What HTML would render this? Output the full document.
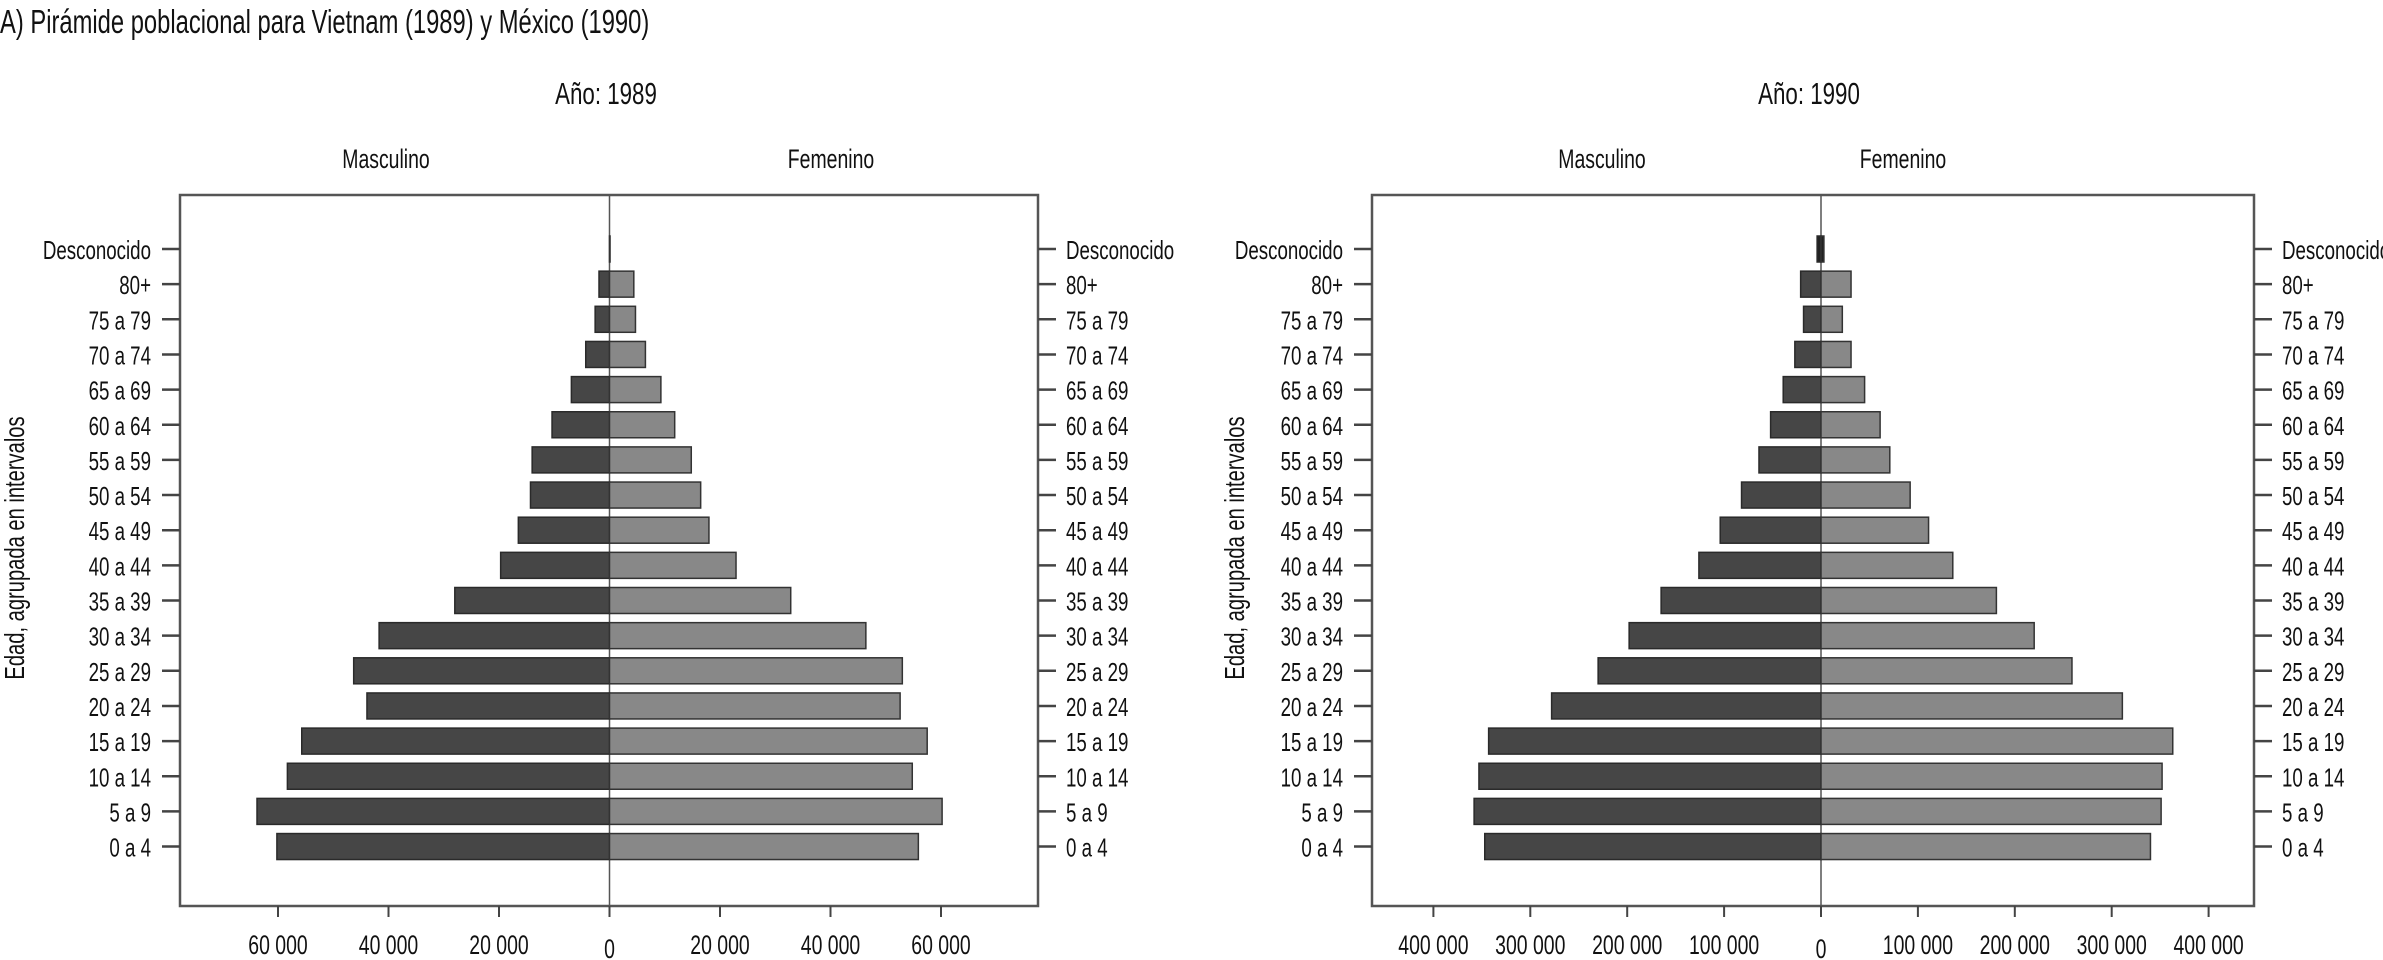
<!DOCTYPE html>
<html><head><meta charset="utf-8">
<style>
html,body{margin:0;padding:0;background:#fff;}
svg{display:block;}
text{font-family:"Liberation Sans Narrow","Liberation Sans",sans-serif;fill:#111;}
</style></head>
<body>
<svg id="chart" width="2383" height="960" viewBox="0 0 2383 960" xmlns="http://www.w3.org/2000/svg"></svg>
<script>
const categories = ["0 a 4","5 a 9","10 a 14","15 a 19","20 a 24","25 a 29","30 a 34","35 a 39","40 a 44","45 a 49","50 a 54","55 a 59","60 a 64","65 a 69","70 a 74","75 a 79","80+","Desconocido"];
const vietnamMale   = [60200,63800,58300,55700,43900,46300,41700,28000,19700,16500,14300,14000,10400,6900,4300,2600,1900,0];
const vietnamFemale = [55900,60200,54800,57500,52600,53000,46400,32800,22900,18000,16500,14800,11800,9300,6500,4700,4400,100];
const mexicoMale    = [347000,358000,353000,343000,278000,230000,198000,165000,126000,104000,82000,64000,52000,39000,27000,18000,21000,4000];
const mexicoFemale  = [340000,351000,352000,363000,311000,259000,220000,181000,136000,111000,92000,71000,61000,45000,31000,22000,31000,3000];
const vietnamTicks = [-60000,-40000,-20000,0,20000,40000,60000];
const mexicoTicks  = [-400000,-300000,-200000,-100000,0,100000,200000,300000,400000];
const NS="http://www.w3.org/2000/svg";
const svg=document.getElementById('chart');
function el(tag,attrs,parent){const e=document.createElementNS(NS,tag);for(const k in attrs)e.setAttribute(k,attrs[k]);(parent||svg).appendChild(e);return e;}
function txt(x,y,s,anchor,size,parent,rot){
  const t=el('text',{transform:`translate(${x},${y})`+(rot?` rotate(${rot})`:'')+' scale(0.72,1)','text-anchor':anchor,'font-size':size},parent);
  t.textContent=s;return t;
}
function fmt(v){v=Math.abs(v);if(v===0)return "0";const s=String(v);return s.slice(0,s.length-3)+" "+s.slice(-3);}

const t0=txt(0,33,"A) Pirámide poblacional para Vietnam (1989) y México (1990)","start",33);



function pyramid(cfg){
  const g=el('g',{});
  
  
  const xs=v=>cfg.zero+v*cfg.pxPer;
  const yTop=249, step=35.15;
  const ys=i=>yTop+(categories.length-1-i)*step;
  const fr=el('rect',{x:cfg.left,y:195,width:cfg.right-cfg.left,height:711,fill:'none',stroke:'#555','stroke-width':2.5},g);
  
  
  const zl=el('line',{x1:cfg.zero,x2:cfg.zero,y1:195,y2:906,stroke:'#555','stroke-width':1.5},g);
  
  
  const a=txt(cfg.titleX,104,cfg.title,"middle",31,g);
  
  
  const m=txt(cfg.mascX,168,"Masculino","middle",27,g);
  
  
  const f=txt(cfg.femX,168,"Femenino","middle",27,g);
  
  
  const yt=txt(cfg.ytX,548,"Edad, agrupada en intervalos","middle",28,g,-90);
  
  
  categories.forEach((c,i)=>{
    const y=ys(i);
    const tl=el('line',{x1:cfg.left-18,x2:cfg.left,y1:y,y2:y,stroke:'#444','stroke-width':2.5},g);
    
    
    const tr=el('line',{x1:cfg.right,x2:cfg.right+18,y1:y,y2:y,stroke:'#444','stroke-width':2.5},g);
    
    
    const l1=txt(cfg.left-29,y+10,c,"end",26,g);
    
    
    const l2=txt(cfg.right+28,y+10,c,"start",26,g);
    
    
    const dark = cfg.darkUnknown && c==="Desconocido";
    const mv=cfg.male[i], fv=cfg.female[i];
    if(mv>0){
      const b=el('rect',{x:xs(-mv),y:y-13,width:xs(0)-xs(-mv),height:26,fill:dark?'#222':'#464646',stroke:'#2a2a2a','stroke-width':1.5},g);
      
      
    }
    if(fv>0){
      const b=el('rect',{x:xs(0),y:y-13,width:xs(fv)-xs(0),height:26,fill:dark?'#222':'#888',stroke:'#333','stroke-width':1.5},g);
      
      
    }
  });
  cfg.ticks.forEach(v=>{
    const x=xs(v);
    const tk=el('line',{x1:x,x2:x,y1:906,y2:917,stroke:'#444','stroke-width':2},g);
    
    
    const lb=txt(x,v===0?958:954,fmt(v),"middle",27,g);
    
    
  });
}
pyramid({name:'vietnam-1989-pyramid',left:180,right:1038,zero:609.5,pxPer:110.5/20000,ticks:vietnamTicks,male:vietnamMale,female:vietnamFemale,title:"Año: 1989",titleX:606,mascX:386,femX:831,ytX:24,darkUnknown:false});
pyramid({name:'mexico-1990-pyramid',left:1372,right:2254,zero:1821,pxPer:96.9/100000,ticks:mexicoTicks,male:mexicoMale,female:mexicoFemale,title:"Año: 1990",titleX:1809,mascX:1602,femX:1903,ytX:1244,darkUnknown:true});
</script>
</body></html>
